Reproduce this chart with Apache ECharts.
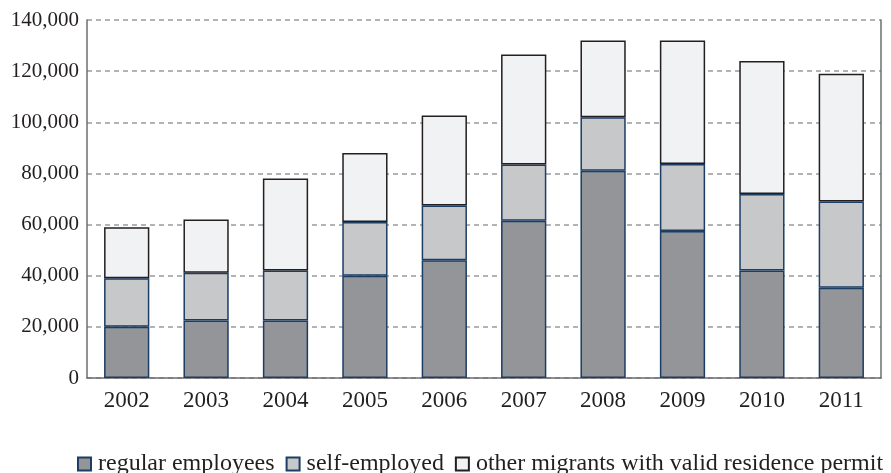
<!DOCTYPE html>
<html>
<head>
<meta charset="utf-8">
<script src="https://cdn.jsdelivr.net/npm/echarts@6/dist/echarts.min.js"></script>
<style>html,body{margin:0;padding:0;background:#fff}#c{width:891px;height:473px}</style>
</head>
<body>
<div id="c"></div>
<script>
var years = ['2002','2003','2004','2005','2006','2007','2008','2009','2010','2011'];
var regularTotals = [20000, 22500, 22500, 40000, 46000, 61500, 81000, 57500, 42000, 35300];
var selfTotals = [39000, 41200, 42000, 61000, 67500, 83500, 102000, 83700, 72000, 69000];
var allTotals = [59000, 62000, 78000, 88000, 102700, 126500, 132000, 132000, 124000, 119000];
var yTicks = [0, 20000, 40000, 60000, 80000, 100000, 120000, 140000];

var regular = regularTotals.slice();
var selfEmployed = selfTotals.map(function(v,i){return v - regularTotals[i];});
var others = allTotals.map(function(v,i){return v - selfTotals[i];});

var font = 'Liberation Serif, Times New Roman, serif';
var chart = echarts.init(document.getElementById('c'));
chart.setOption({
  animation: false,
  grid: {left: 87, right: 10, top: 20, bottom: 95},
  legend: {
    left: 72, top: 447,
    icon: 'rect', itemWidth: 13, itemHeight: 13, itemGap: 11,
    textStyle: {fontFamily: font, fontSize: 24, color: '#231f20', padding: [0,0,0,2]},
    data: ['regular employees','self-employed','other migrants with valid residence permit']
  },
  xAxis: {
    type: 'category', data: years,
    axisLine: {lineStyle: {color: '#6d6e71', width: 1.5}},
    axisTick: {show: false},
    axisLabel: {fontFamily: font, fontSize: 23, color: '#231f20', margin: 11}
  },
  yAxis: [{
    type: 'value', min: 0, max: 140000, interval: 20000,
    axisLine: {show: true, lineStyle: {color: '#6d6e71', width: 1.5}},
    axisTick: {show: false},
    axisLabel: {fontFamily: font, fontSize: 21, color: '#231f20', margin: 8,
      formatter: function(v){ return yTicks.indexOf(v) >= 0 ? v.toLocaleString('en-US') : ''; }},
    splitLine: {lineStyle: {color: '#999a9c', width: 1.5, type: [5,4]}}
  },{
    type: 'value', position: 'right', min: 0, max: 140000, interval: 20000,
    axisLine: {show: true, lineStyle: {color: '#6d6e71', width: 1.5}},
    axisTick: {show: false}, axisLabel: {show: false}, splitLine: {show: false}
  }],
  series: [{
    name: 'regular employees', type: 'bar', stack: 'a', data: regular, barWidth: '57%',
    itemStyle: {color: '#939598', borderColor: '#1c3d64', borderWidth: 1.5}
  },{
    name: 'self-employed', type: 'bar', stack: 'a', data: selfEmployed,
    itemStyle: {color: '#c7c8ca', borderColor: '#1c3d64', borderWidth: 1.5}
  },{
    name: 'other migrants with valid residence permit', type: 'bar', stack: 'a', data: others,
    itemStyle: {color: '#f1f2f4', borderColor: '#231f20', borderWidth: 1.5}
  }]
});
</script>
</body>
</html>
